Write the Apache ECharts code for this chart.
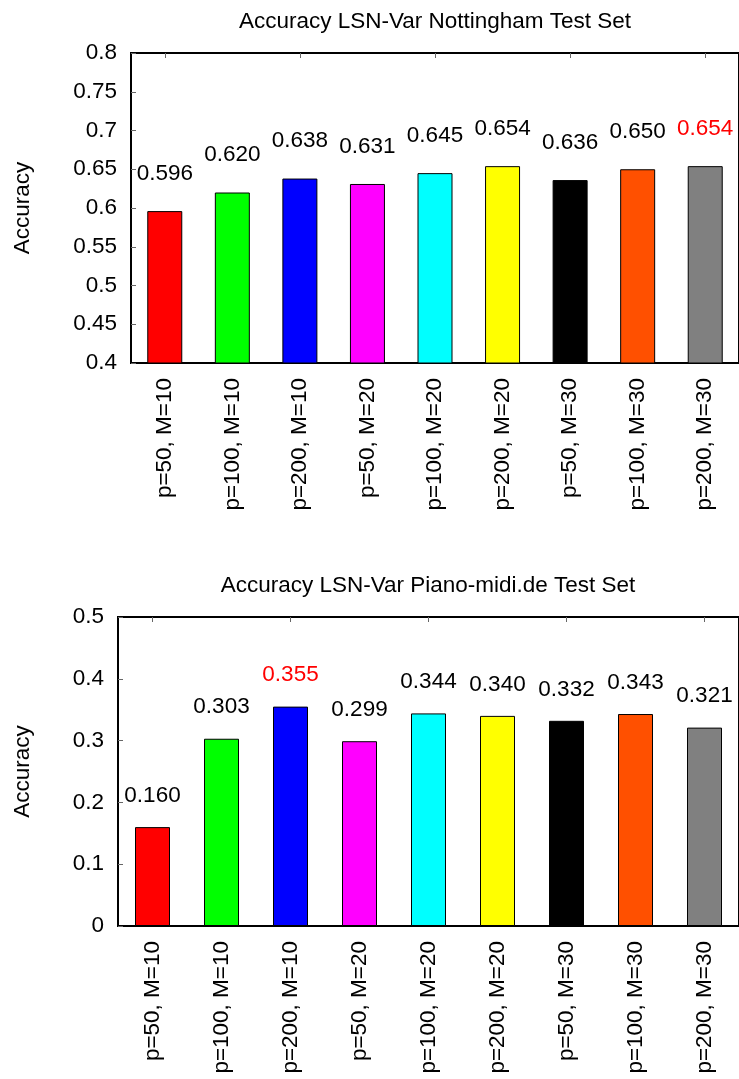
<!DOCTYPE html>
<html>
<head>
<meta charset="utf-8">
<script src="https://cdn.jsdelivr.net/npm/echarts@6/dist/echarts.min.js"></script>
<style>
html,body{margin:0;padding:0;background:#fff;}
#chart{width:739px;height:1079px;}
</style>
</head>
<body>
<div id="chart"></div>
<script>
const categories = ["p=50, M=10","p=100, M=10","p=200, M=10","p=50, M=20","p=100, M=20","p=200, M=20","p=50, M=30","p=100, M=30","p=200, M=30"];
const nottinghamValues = [0.596,0.620,0.638,0.631,0.645,0.654,0.636,0.650,0.654];
const pianoValues = [0.160,0.303,0.355,0.299,0.344,0.340,0.332,0.343,0.321];
const topTitle = "Accuracy LSN-Var Nottingham Test Set";
const bottomTitle = "Accuracy LSN-Var Piano-midi.de Test Set";
const yName = "Accuracy";

const barColors = ["#ff0000","#00ff00","#0000ff","#ff00ff","#00ffff","#ffff00","#000000","#ff5000","#808080"];
const topHighlight = 8;
const bottomHighlight = 2;
const FONT = "'Liberation Sans', Arial, sans-serif";
const FS = 22.5;

function makeData(vals, hi){
  return vals.map((v,i)=>({
    value: v,
    itemStyle: {color: barColors[i], borderColor: '#000', borderWidth: 1},
    label: {color: i===hi ? '#ff0000' : '#000'}
  }));
}

const chart = echarts.init(document.getElementById('chart'), null, {renderer:'canvas'});
const axisText = {color:'#000', fontFamily: FONT, fontSize: FS};

function xAxes(gi){
  return [
    {type:'category', gridIndex:gi, data:categories, position:'bottom',
     axisLine:{show:true, lineStyle:{color:'#000', width:2}},
     axisTick:{show:true, inside:true, alignWithLabel:true, length:5, lineStyle:{color:'#666'}},
     axisLabel:Object.assign({rotate:90, margin:15, interval:0}, axisText),
     splitLine:{show:false}},
    {type:'category', gridIndex:gi, data:categories, position:'top',
     axisLine:{show:true, lineStyle:{color:'#000', width:2}},
     axisTick:{show:true, inside:true, alignWithLabel:true, length:5, lineStyle:{color:'#666'}},
     axisLabel:{show:false}, splitLine:{show:false}}
  ];
}
function yAxis(gi, min, max, interval, gap){
  return {type:'value', gridIndex:gi, min:min, max:max, interval:interval,
    name:yName, nameLocation:'middle', nameGap:gap, nameRotate:90,
    nameTextStyle:{color:'#000', fontFamily:FONT, fontSize:FS},
    axisLine:{show:true, lineStyle:{color:'#000', width:2}},
    axisTick:{show:true, inside:true, length:5, lineStyle:{color:'#666'}},
    axisLabel:Object.assign({margin:14}, axisText),
    splitLine:{show:false}};
}

const option = {
  animation:false,
  backgroundColor:'#fff',
  textStyle:{fontFamily:FONT},
  title:[
    {text:topTitle, left:430, top:5, textAlign:'center',
     textStyle:{color:'#000', fontFamily:FONT, fontSize:FS, fontWeight:'normal'}},
    {text:bottomTitle, left:423, top:569, textAlign:'center',
     textStyle:{color:'#000', fontFamily:FONT, fontSize:FS, fontWeight:'normal'}}
  ],
  grid:[
    {left:131, top:53, width:612, height:310, show:true, borderColor:'#000', borderWidth:2},
    {left:118, top:617, width:625, height:309, show:true, borderColor:'#000', borderWidth:2}
  ],
  xAxis: xAxes(0).concat(xAxes(1)),
  yAxis: [yAxis(0, 0.4, 0.8, 0.05, 97), yAxis(1, 0, 0.5, 0.1, 84)],
  series:[
    {type:'bar', xAxisIndex:0, yAxisIndex:0, barWidth:35,
     data: makeData(nottinghamValues, topHighlight),
     label:{show:true, position:'top', distance:26, fontFamily:FONT, fontSize:FS,
            formatter:p=>p.value.toFixed(3)}},
    {type:'bar', xAxisIndex:2, yAxisIndex:1, barWidth:35,
     data: makeData(pianoValues, bottomHighlight),
     label:{show:true, position:'top', distance:20, fontFamily:FONT, fontSize:FS,
            formatter:p=>p.value.toFixed(3)}}
  ]
};
chart.setOption(option);
</script>
</body>
</html>
